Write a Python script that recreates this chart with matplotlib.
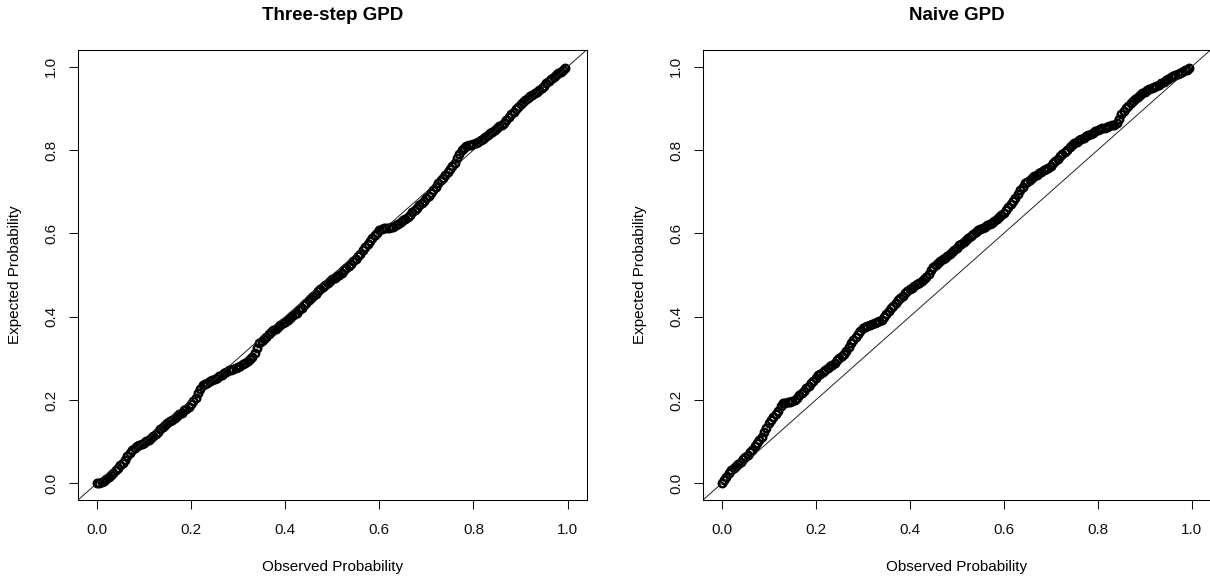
import matplotlib
matplotlib.use("Agg")
import matplotlib.pyplot as plt

plt.rcParams['font.family'] = ['Liberation Sans', 'DejaVu Sans']

# observed (empirical) probabilities, shared by both panels
observed = [
    0.000, 0.005, 0.010, 0.015, 0.020, 0.025, 0.030, 0.035, 0.040, 0.045,
    0.050, 0.055, 0.060, 0.065, 0.070, 0.075, 0.080, 0.085, 0.090, 0.095,
    0.100, 0.105, 0.110, 0.115, 0.120, 0.125, 0.130, 0.135, 0.140, 0.145,
    0.150, 0.155, 0.160, 0.165, 0.170, 0.175, 0.180, 0.185, 0.190, 0.195,
    0.200, 0.205, 0.210, 0.215, 0.220, 0.225, 0.230, 0.235, 0.240, 0.245,
    0.250, 0.255, 0.260, 0.265, 0.270, 0.275, 0.280, 0.285, 0.290, 0.295,
    0.300, 0.305, 0.310, 0.315, 0.320, 0.325, 0.330, 0.335, 0.340, 0.345,
    0.350, 0.355, 0.360, 0.365, 0.370, 0.375, 0.380, 0.385, 0.390, 0.395,
    0.400, 0.405, 0.410, 0.415, 0.420, 0.425, 0.430, 0.435, 0.440, 0.445,
    0.450, 0.455, 0.460, 0.465, 0.470, 0.475, 0.480, 0.485, 0.490, 0.495,
    0.500, 0.505, 0.510, 0.515, 0.520, 0.525, 0.530, 0.535, 0.540, 0.545,
    0.550, 0.555, 0.560, 0.565, 0.570, 0.575, 0.580, 0.585, 0.590, 0.595,
    0.600, 0.605, 0.610, 0.615, 0.620, 0.625, 0.630, 0.635, 0.640, 0.645,
    0.650, 0.655, 0.660, 0.665, 0.670, 0.675, 0.680, 0.685, 0.690, 0.695,
    0.700, 0.705, 0.710, 0.715, 0.720, 0.725, 0.730, 0.735, 0.740, 0.745,
    0.750, 0.755, 0.760, 0.765, 0.770, 0.775, 0.780, 0.785, 0.790, 0.795,
    0.800, 0.805, 0.810, 0.815, 0.820, 0.825, 0.830, 0.835, 0.840, 0.845,
    0.850, 0.855, 0.860, 0.865, 0.870, 0.875, 0.880, 0.885, 0.890, 0.895,
    0.900, 0.905, 0.910, 0.915, 0.920, 0.925, 0.930, 0.935, 0.940, 0.945,
    0.950, 0.955, 0.960, 0.965, 0.970, 0.975, 0.980, 0.985, 0.990, 0.995,
]

# expected probabilities, three-step GPD fit
expected_three_step = [
    0.000, 0.001, 0.003, 0.006, 0.010, 0.015, 0.020, 0.026, 0.032, 0.038,
    0.044, 0.050, 0.057, 0.065, 0.073, 0.080, 0.086, 0.089, 0.092, 0.095,
    0.098, 0.101, 0.104, 0.108, 0.113, 0.118, 0.124, 0.130, 0.136, 0.140,
    0.144, 0.149, 0.153, 0.158, 0.162, 0.166, 0.170, 0.175, 0.179, 0.183,
    0.190, 0.198, 0.206, 0.216, 0.227, 0.236, 0.239, 0.242, 0.245, 0.247,
    0.250, 0.253, 0.257, 0.261, 0.265, 0.268, 0.271, 0.273, 0.275, 0.277,
    0.279, 0.282, 0.286, 0.290, 0.294, 0.299, 0.304, 0.313, 0.324, 0.336,
    0.341, 0.347, 0.352, 0.358, 0.363, 0.367, 0.371, 0.376, 0.380, 0.384,
    0.388, 0.393, 0.397, 0.401, 0.406, 0.410, 0.416, 0.421, 0.427, 0.433,
    0.439, 0.444, 0.449, 0.455, 0.461, 0.467, 0.472, 0.477, 0.482, 0.486,
    0.490, 0.494, 0.497, 0.501, 0.506, 0.511, 0.516, 0.521, 0.527, 0.533,
    0.539, 0.545, 0.551, 0.559, 0.567, 0.574, 0.581, 0.588, 0.595, 0.602,
    0.607, 0.610, 0.612, 0.613, 0.614, 0.615, 0.616, 0.619, 0.623, 0.627,
    0.631, 0.635, 0.639, 0.645, 0.651, 0.656, 0.662, 0.667, 0.672, 0.678,
    0.684, 0.690, 0.696, 0.704, 0.712, 0.720, 0.727, 0.734, 0.741, 0.748,
    0.755, 0.762, 0.770, 0.780, 0.790, 0.800, 0.806, 0.809, 0.811, 0.813,
    0.815, 0.816, 0.819, 0.823, 0.827, 0.831, 0.836, 0.840, 0.844, 0.848,
    0.853, 0.857, 0.861, 0.866, 0.873, 0.880, 0.886, 0.892, 0.898, 0.904,
    0.910, 0.916, 0.921, 0.926, 0.929, 0.933, 0.936, 0.940, 0.943, 0.948,
    0.954, 0.960, 0.966, 0.971, 0.975, 0.980, 0.984, 0.988, 0.993, 0.997,
]

# expected probabilities, naive GPD fit
expected_naive = [
    0.002, 0.008, 0.016, 0.024, 0.031, 0.036, 0.041, 0.046, 0.052, 0.058,
    0.063, 0.069, 0.075, 0.081, 0.089, 0.097, 0.104, 0.112, 0.123, 0.134,
    0.145, 0.152, 0.159, 0.166, 0.174, 0.185, 0.192, 0.194, 0.195, 0.196,
    0.197, 0.201, 0.206, 0.211, 0.216, 0.222, 0.228, 0.234, 0.240, 0.246,
    0.252, 0.259, 0.263, 0.267, 0.272, 0.276, 0.281, 0.285, 0.290, 0.295,
    0.300, 0.305, 0.310, 0.318, 0.327, 0.336, 0.344, 0.351, 0.358, 0.365,
    0.372, 0.376, 0.378, 0.380, 0.383, 0.385, 0.387, 0.390, 0.393, 0.399,
    0.406, 0.413, 0.420, 0.426, 0.433, 0.439, 0.445, 0.450, 0.456, 0.462,
    0.466, 0.470, 0.474, 0.478, 0.482, 0.486, 0.490, 0.495, 0.503, 0.511,
    0.519, 0.525, 0.530, 0.534, 0.538, 0.542, 0.546, 0.551, 0.556, 0.561,
    0.566, 0.571, 0.575, 0.580, 0.585, 0.589, 0.594, 0.598, 0.603, 0.607,
    0.610, 0.613, 0.616, 0.619, 0.622, 0.625, 0.630, 0.634, 0.639, 0.644,
    0.649, 0.656, 0.663, 0.670, 0.678, 0.686, 0.695, 0.703, 0.712, 0.720,
    0.724, 0.728, 0.732, 0.737, 0.741, 0.745, 0.748, 0.751, 0.755, 0.758,
    0.762, 0.768, 0.774, 0.779, 0.785, 0.790, 0.796, 0.801, 0.807, 0.812,
    0.816, 0.819, 0.823, 0.826, 0.830, 0.833, 0.836, 0.839, 0.842, 0.845,
    0.848, 0.850, 0.852, 0.854, 0.856, 0.858, 0.859, 0.861, 0.864, 0.875,
    0.886, 0.893, 0.900, 0.906, 0.913, 0.918, 0.923, 0.927, 0.931, 0.936,
    0.940, 0.943, 0.946, 0.948, 0.951, 0.954, 0.957, 0.960, 0.963, 0.967,
    0.971, 0.975, 0.978, 0.981, 0.983, 0.986, 0.988, 0.991, 0.993, 0.996,
]

titles = ['Three-step GPD', 'Naive GPD']
ticks = [0.0, 0.2, 0.4, 0.6, 0.8, 1.0]
tick_labels = ['0.0', '0.2', '0.4', '0.6', '0.8', '1.0']

W, H = 1210, 580
fig = plt.figure(figsize=(W / 100, H / 100), dpi=100)

# axes boxes in pixels: left, bottom (from top), width, height
boxes = [(78, 500, 508.5, 450), (703, 500, 507.5, 450)]

for (left, bottom, w, h), title, expected in zip(boxes, titles,
                                                 [expected_three_step, expected_naive]):
    ax = fig.add_axes([left / W, (H - bottom) / H, w / W, h / H])
    # open circles packed densely, like R's pch=1 with many points
    ax.plot(observed, expected, 'o', markersize=5.4,
            markerfacecolor='none', markeredgecolor='black',
            markeredgewidth=1.75)
    ax.axline((0, 0), slope=1, color='#222222', linewidth=0.7)

    ax.set_xlim(-0.04, 1.04)
    ax.set_ylim(-0.04, 1.04)
    ax.set_xticks(ticks)
    ax.set_xticklabels(tick_labels)
    ax.set_yticks(ticks)
    ax.set_yticklabels(tick_labels)
    ax.tick_params(length=6.7, width=0.75, labelsize=11, pad=9.5,
                   colors='#111111')
    ax.tick_params(axis='y', labelrotation=90, pad=7.5)
    for lab in ax.get_yticklabels():
        lab.set_va('center')
    for s in ax.spines.values():
        s.set_linewidth(0.75)

    ax.set_title(title, fontsize=13.5, fontweight='bold', pad=21.5)
    ax.set_xlabel('Observed Probability', fontsize=11, va='center')
    ax.set_ylabel('Expected Probability', fontsize=11, va='center')
    ax.xaxis.set_label_coords(0.5, (500 - 567) / h)
    ax.yaxis.set_label_coords((15 - 78) / 508.5, 0.5)

fig.savefig('out.png', dpi=100)
